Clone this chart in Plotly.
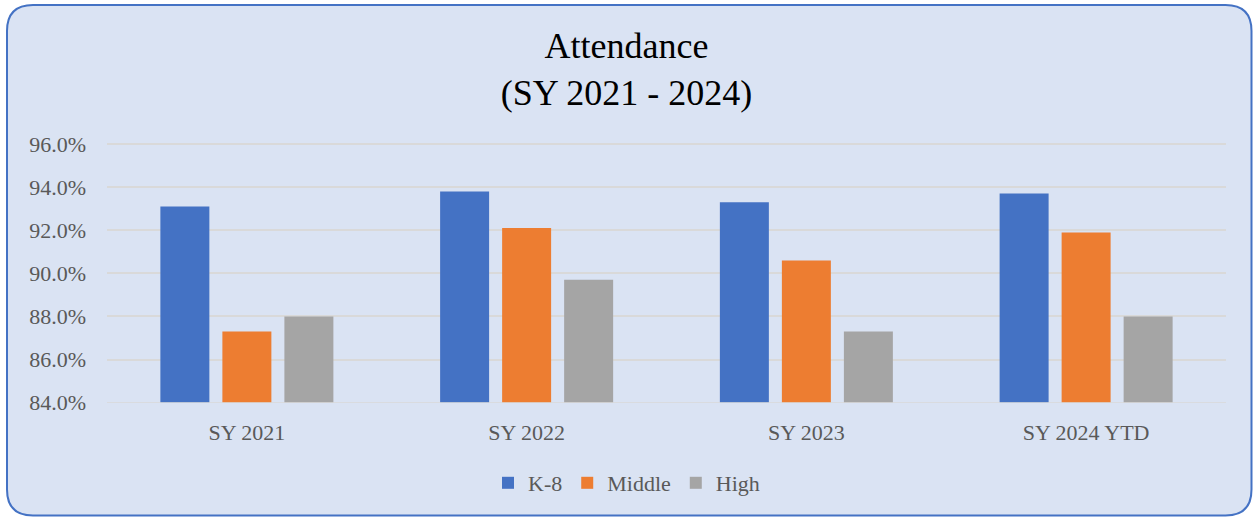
import plotly.graph_objects as go

categories = ["SY 2021", "SY 2022", "SY 2023", "SY 2024 YTD"]
k8 = [93.1, 93.8, 93.3, 93.7]
middle = [87.3, 92.1, 90.6, 91.9]
high = [88.0, 89.7, 87.3, 88.0]
y_ticks = [84, 86, 88, 90, 92, 94, 96]
y_tick_labels = ["84.0%", "86.0%", "88.0%", "90.0%", "92.0%", "94.0%", "96.0%"]

W, H = 1253, 517
FONT = "Liberation Serif"
GREY = "#595959"
GRID = "#D9D9D9"

fig = go.Figure()
for name, vals, col in [("K-8", k8, "#4472C4"), ("Middle", middle, "#ED7D31"), ("High", high, "#A5A5A5")]:
    fig.add_trace(go.Bar(x=categories, y=vals, name=name, marker=dict(color=col, line=dict(width=0)),
                         base=0))

# rounded frame
x0, y0, x1, y1, r = 7, 5, 1251.5, 515.5, 26
def px(x): return x / W
def py(y): return 1 - y / H
path = (f"M {px(x0+r)},{py(y0)} L {px(x1-r)},{py(y0)} "
        f"Q {px(x1)},{py(y0)} {px(x1)},{py(y0+r)} L {px(x1)},{py(y1-r)} "
        f"Q {px(x1)},{py(y1)} {px(x1-r)},{py(y1)} L {px(x0+r)},{py(y1)} "
        f"Q {px(x0)},{py(y1)} {px(x0)},{py(y1-r)} L {px(x0)},{py(y0+r)} "
        f"Q {px(x0)},{py(y0)} {px(x0+r)},{py(y0)} Z")
fig.add_shape(type="path", path=path, xref="paper", yref="paper",
              fillcolor="#DAE3F3", line=dict(color="#4472C4", width=2), layer="below")
# baseline gridline at 84%
fig.add_shape(type="line", xref="x domain", yref="y", x0=0, x1=1, y0=y_ticks[0], y1=y_ticks[0],
              line=dict(color=GRID, width=1.5), layer="above")

ppu = (402.7 - 144) / 12.0
top_px = 144 - 0.1 * ppu

fig.update_layout(
    width=W, height=H,
    margin=dict(l=0, r=0, t=0, b=0),
    paper_bgcolor="white",
    plot_bgcolor="rgba(0,0,0,0)",
    font=dict(family=FONT, color=GREY, size=22),
    title=dict(text="Attendance<br>(SY 2021 - 2024)", x=0.5, xanchor="center",
               y=py(58), yanchor="middle", font=dict(family=FONT, size=36, color="black")),
    barmode="group",
    bargap=0.335,
    bargroupgap=0.21,
    showlegend=True,
    legend=dict(orientation="h", x=0.5, xanchor="center", y=py(483), yanchor="middle",
                font=dict(family=FONT, size=22, color=GREY), bgcolor="rgba(0,0,0,0)",
                itemwidth=30, traceorder="normal"),
    xaxis=dict(domain=[107 / W, 1226 / W], showgrid=False, showline=False, ticks="",
               tickfont=dict(family=FONT, size=22, color=GREY), ticklabelstandoff=14,
               automargin=False),
    yaxis=dict(domain=[py(402.7), py(top_px)], range=[84, 96.1], tickvals=y_ticks,
               ticktext=y_tick_labels, showgrid=True, gridcolor=GRID, gridwidth=1.5,
               zeroline=False, showline=False, ticks="",
               tickfont=dict(family=FONT, size=22, color=GREY), ticklabelstandoff=20,
               automargin=False),
)

fig.write_html("out.html", config={"displayModeBar": False},
               post_script="document.body.style.margin='0px';")
